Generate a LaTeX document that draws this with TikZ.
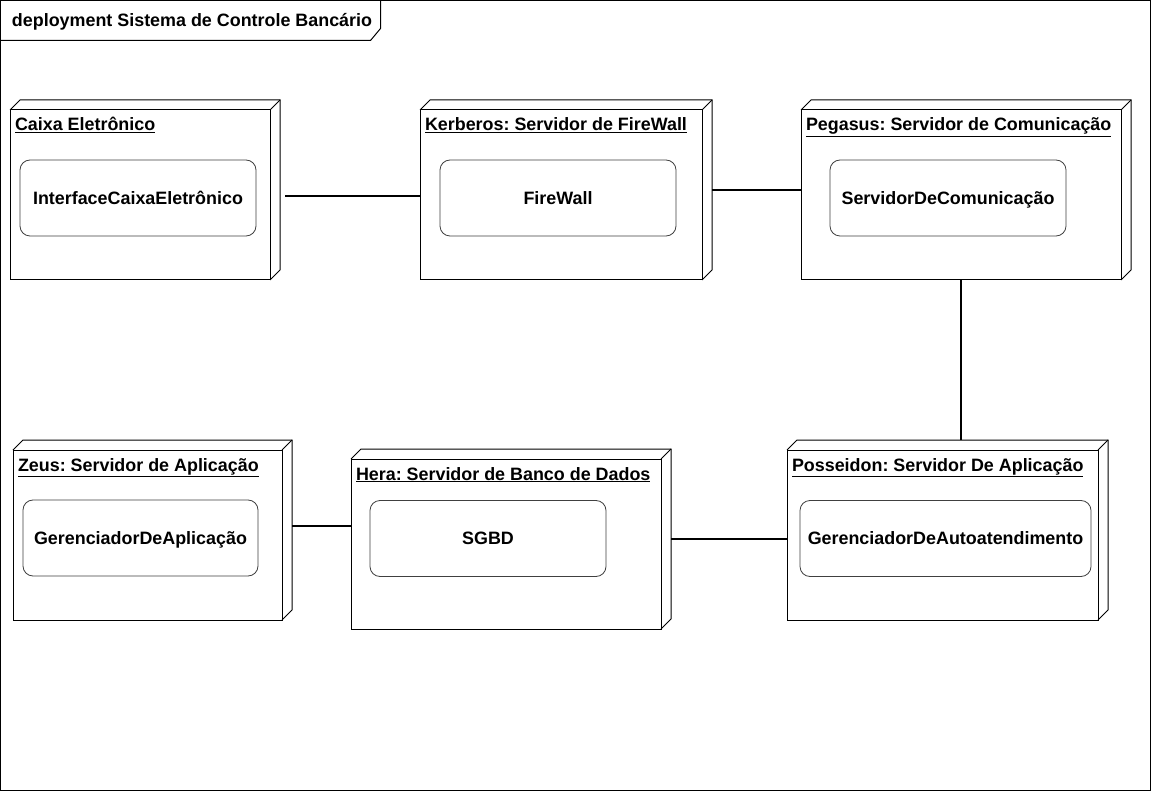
\documentclass[tikz,border=0pt]{standalone}
\usepackage{fontspec}
\setmainfont{Liberation Sans}
\usepackage{tikz}
\usetikzlibrary{positioning}
\frenchspacing

\begin{document}
\begin{tikzpicture}[x=1pt, y=1pt,
	every node/.style={font=\bfseries\fontsize{17.9}{21}\selectfont, inner sep=0pt, outer sep=0pt},
	device/.style={draw, line width=1pt, fill=white, rectangle, minimum height=170pt},
	artifact/.style={draw=black!75, line width=0.8pt, rounded corners=10pt, minimum height=76pt, text height=17pt, text depth=4.2pt},
	devtitle/.style={anchor=base west},
	link/.style={draw, line width=1.6pt}]
	\useasboundingbox (0,0) rectangle (1151,-791);
	% frame
	\node[draw, line width=1pt, minimum width=1150pt, minimum height=790pt, anchor=north west] (frame) at (0.5,-0.5) {};
	\draw[line width=1pt] (frame.north west) ++(0,-40) -- ++(370,0) -- ++(10,12) -- ++(0,28);
	\node[anchor=base west] (frametitle) at (12,-27) {deployment Sistema de Controle Bancário};
	% devices
	\foreach \nm/\cx/\cy/\bw/\ttl in {caixa/140/195/260/Caixa Eletrônico, kerberos/561/195/282/Kerberos: Servidor de FireWall, pegasus/961/195/320/Pegasus: Servidor de Comunicação, zeus/147.5/535/269/Zeus: Servidor de Aplicação, hera/506/544/310/Hera: Servidor de Banco de Dados, posseidon/942.5/535/311/Posseidon: Servidor De Aplicação}
	{
		\node[device, minimum width=\bw pt] (\nm) at (\cx,-\cy) {};
		\draw[line width=1pt] (\nm.north west) -- ++(10pt,10pt) -- ([shift={(10pt,10pt)}]\nm.north east) -- ([shift={(10pt,10pt)}]\nm.south east) -- (\nm.south east);
		\draw[line width=1pt] (\nm.north east) -- ++(10pt,10pt);
		\node[below right=21pt and 5pt of \nm.north west, devtitle] (\nm-title) {\underline{\ttl}};
	}
	% artifacts
	\foreach \nm/\cx/\cy/\bw/\txt in {iface/138/198/236/InterfaceCaixaEletrônico, fw/558/198/236/FireWall, comm/948/198/236/ServidorDeComunicação, gapp/140.5/538/235/GerenciadorDeAplicação, sgbd/488/538.5/236/SGBD, gauto/945.5/538.5/291/GerenciadorDeAutoatendimento}
	{
		\node[artifact, minimum width=\bw pt] (\nm) at (\cx,-\cy) {\txt};
	}
	% links
	\draw[link] ([shift={(15pt,-1pt)}]caixa.east) -- ([yshift=-1pt]kerberos.west);
	\draw[link] ([shift={(10pt,5pt)}]kerberos.east) coordinate (k1) -- (k1 -| pegasus.west);
	\draw[link] (pegasus.south) -- ([yshift=10pt]pegasus.south |- posseidon.north);
	\draw[link] ([shift={(10pt,9pt)}]zeus.east) coordinate (z1) -- (z1 -| hera.west);
	\draw[link] ([shift={(10pt,5pt)}]hera.east) coordinate (h1) -- (h1 -| posseidon.west);
\end{tikzpicture}
\end{document}
